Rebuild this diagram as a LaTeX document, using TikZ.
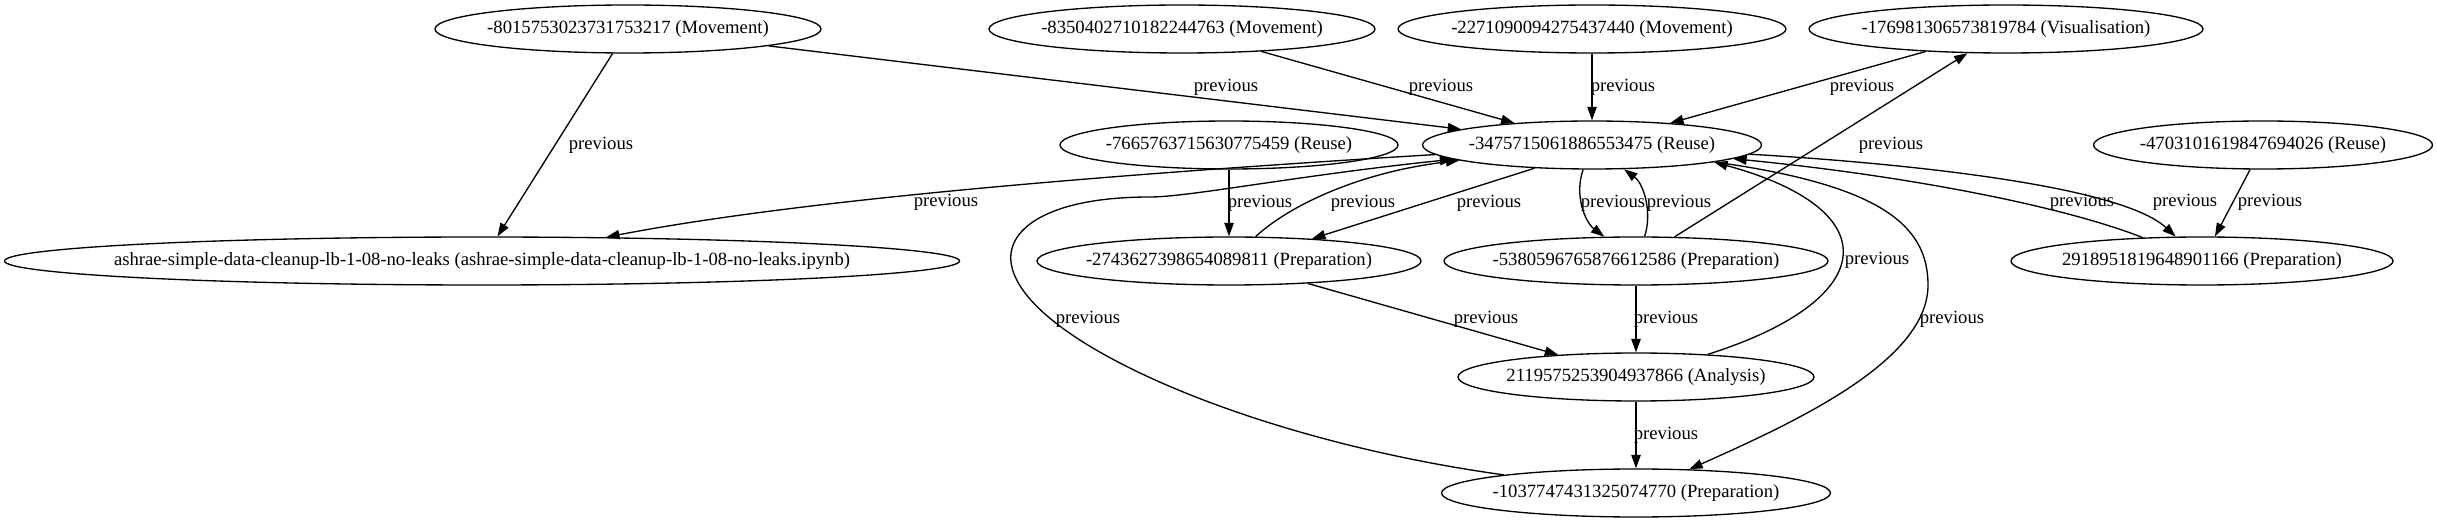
\documentclass[tikz,border=0pt]{standalone}
\usepackage{fontspec}
\setmainfont{Liberation Serif}
\usetikzlibrary{arrows.meta,shapes.geometric}
\tikzset{
  gnode/.style={draw, ellipse, line width=1pt, inner sep=0pt, minimum height=36pt, font=\fontsize{14}{16}\selectfont},
  glabel/.style={inner sep=0pt, font=\fontsize{14}{16}\selectfont},
  gedge/.style={line width=1pt, -{Triangle[length=10pt,width=7pt]}},
}
\begin{document}
\begin{tikzpicture}[x=0.75pt,y=-0.75pt]
\useasboundingbox (0,0) rectangle (2437,523);
% nodes
\node[gnode, minimum width=289.5pt] (n8015) at (628,29) {\makebox[0pt]{-8015753023731753217 (Movement)}};
\node[gnode, minimum width=289.5pt] (n8350) at (1182,29) {\makebox[0pt]{-8350402710182244763 (Movement)}};
\node[gnode, minimum width=291pt] (n2271) at (1592,29) {\makebox[0pt]{-2271090094275437440 (Movement)}};
\node[gnode, minimum width=295.5pt] (n1769) at (2006,29) {\makebox[0pt]{-176981306573819784 (Visualisation)}};
\node[gnode, minimum width=253.5pt] (n7665) at (1229,145) {\makebox[0pt]{-7665763715630775459 (Reuse)}};
\node[gnode, minimum width=254.25pt] (n3475) at (1592,145) {\makebox[0pt]{-3475715061886553475 (Reuse)}};
\node[gnode, minimum width=254.25pt] (n4703) at (2263,145) {\makebox[0pt]{-4703101619847694026 (Reuse)}};
\node[gnode, minimum width=716.25pt] (ashrae) at (482,261) {\makebox[0pt]{ashrae-simple-data-cleanup-lb-1-08-no-leaks (ashrae-simple-data-cleanup-lb-1-08-no-leaks.ipynb)}};
\node[gnode, minimum width=288pt] (n2743) at (1229,261) {\makebox[0pt]{-2743627398654089811 (Preparation)}};
\node[gnode, minimum width=288pt] (n5380) at (1636,261) {\makebox[0pt]{-5380596765876612586 (Preparation)}};
\node[gnode, minimum width=286.5pt] (n2918) at (2202,261) {\makebox[0pt]{2918951819648901166 (Preparation)}};
\node[gnode, minimum width=267pt] (n2119) at (1636,377) {\makebox[0pt]{2119575253904937866 (Analysis)}};
\node[gnode, minimum width=291.75pt] (n1037) at (1636,493) {\makebox[0pt]{-1037747431325074770 (Preparation)}};
% edges
\draw[gedge] (n8015) -- (ashrae);
\draw[gedge] (n8015) -- (n3475);
\draw[gedge] (n8350) -- (n3475);
\draw[gedge] (n2271) -- (n3475);
\draw[gedge] (n1769) -- (n3475);
\draw[gedge] (n3475) .. controls (1100,175) and (800,200) .. (ashrae);
\draw[gedge] (n7665) -- (n2743);
\draw[gedge] (n2743) .. controls (1290,205) and (1360,172) .. (n3475);
\draw[gedge] (n3475.202) -- (n2743.15);
\draw[gedge] (n3475) .. controls (1574,195) and (1585,222) .. (n5380);
\draw[gedge] (n5380) .. controls (1652,215) and (1645,185) .. (n3475);
\draw[gedge] (n5380) -- (n1769);
\draw[gedge] (n2918) .. controls (2060,205) and (1900,175) .. (n3475);
\draw[gedge] (n3475) .. controls (1900,163) and (2120,185) .. (n2918);
\draw[gedge] (n4703) -- (n2918);
\draw[gedge] (n2743) -- (n2119);
\draw[gedge] (n5380) -- (n2119);
\draw[gedge] (n2119) -- (n1037);
\draw[gedge] (n2119) .. controls (1880,300) and (1890,210) .. (n3475.352);
\coordinate (w1) at (1928,285);
\draw[gedge] (n3475) .. controls (1880,185) and (1928,225) .. (w1) .. controls (1928,360) and (1800,420) .. (n1037);
\coordinate (v1) at (1011,262);
\coordinate (v2) at (1150,197);
\draw[gedge] (n1037) .. controls (1250,440) and (1020,340) .. (v1) .. controls (1007,228) and (1050,197) .. (v2) .. controls (1190,197) and (1300,175) .. (n3475);
% labels
\node[glabel] (l1) at (601,145) {previous};
\node[glabel] (l2) at (1226,87) {previous};
\node[glabel] (l3) at (1441,87) {previous};
\node[glabel] (l4) at (1623,87) {previous};
\node[glabel] (l5) at (1862,87) {previous};
\node[glabel] (l6) at (946,202) {previous};
\node[glabel] (l7) at (1260,203) {previous};
\node[glabel] (l8) at (1363,203) {previous};
\node[glabel] (l9) at (1489,203) {previous};
\node[glabel] (l10) at (1613,203) {previous};
\node[glabel] (l11) at (1679,203) {previous};
\node[glabel] (l12) at (1891,145) {previous};
\node[glabel] (l13) at (2082,202) {previous};
\node[glabel] (l14) at (2185,202) {previous};
\node[glabel] (l15) at (2270,202) {previous};
\node[glabel] (l16) at (1486,319) {previous};
\node[glabel] (l17) at (1666,319) {previous};
\node[glabel] (l18) at (1088,319) {previous};
\node[glabel] (l19) at (1952,319) {previous};
\node[glabel] (l20) at (1877,260) {previous};
\node[glabel] (l21) at (1666,435) {previous};
\end{tikzpicture}
\end{document}
